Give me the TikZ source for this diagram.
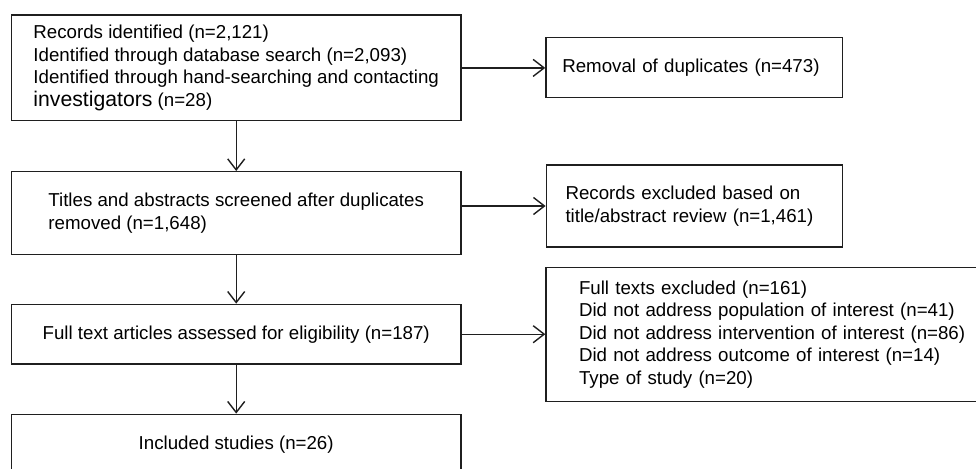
\documentclass[tikz,border=0pt]{standalone}
\usepackage{fontspec}
\setmainfont{Liberation Sans}
\usetikzlibrary{arrows.meta}
\begin{document}
\begin{tikzpicture}[x=1pt,y=-1pt,
  box/.style={draw=black!88, line width=1.4pt, fill=white,
    font=\fontsize{18.7}{22.6}\selectfont, text=black, inner sep=0pt},
  arr/.style={draw=black!88, line width=1.4pt,
    -{Straight Barb[length=11pt,width=17pt]}}]
\clip (0,0) rectangle (976,468);
\fill[white] (0,0) rectangle (976,468);
% left column
\node[box, minimum width=449.7pt, minimum height=105.7pt, align=left] (b1) at (236.2,67.9)
  {Records identified (n=2,121)\\
   Identified through database search (n=2,093)\\
   Identified through hand-searching and contacting\\
   {\fontsize{21.2}{22.6}\selectfont investigators} (n=28)};
\node[box, minimum width=449.7pt, minimum height=82.6pt, align=left] (b3) at (236.2,213)
  {Titles and abstracts screened after duplicates\\removed (n=1,648)};
\node[box, minimum width=449.7pt, minimum height=59.7pt] (b4) at (236.2,334.2)
  {Full text articles assessed for eligibility (n=187)};
\node[box, minimum width=449.7pt, minimum height=60pt] (b5) at (236.2,444.3)
  {Included studies (n=26)};
% right column
\node[box, minimum width=296.7pt, minimum height=60pt, text width=264pt, align=left] (b2) at (694.3,67.7)
  {Removal of duplicates (n=473)};
\node[box, minimum width=296.4pt, minimum height=82pt, text width=258pt, align=left] (r2) at (694.5,206)
  {Records excluded based on\\title/abstract review (n=1,461)};
\node[box, minimum width=454pt, minimum height=134.4pt, text width=388pt, align=left] (fe) at (773,334.5)
  {Full texts excluded (n=161)\\
   Did not address population of interest (n=41)\\
   Did not address intervention of interest (n=86)\\
   Did not address outcome of interest (n=14)\\
   Type of study (n=20)};
% connectors
\draw[arr] (b1.south) -- (b3.north);
\draw[arr] (b3.south) -- (b4.north);
\draw[arr] (b4.south) -- (b5.north);
\draw[arr] (b1.east) -- (b1.east -| b2.west);
\draw[arr] (r2.west -| b3.east) -- (r2.west);
\draw[arr] (b4.east) -- (b4.east -| fe.west);
\end{tikzpicture}
\end{document}
